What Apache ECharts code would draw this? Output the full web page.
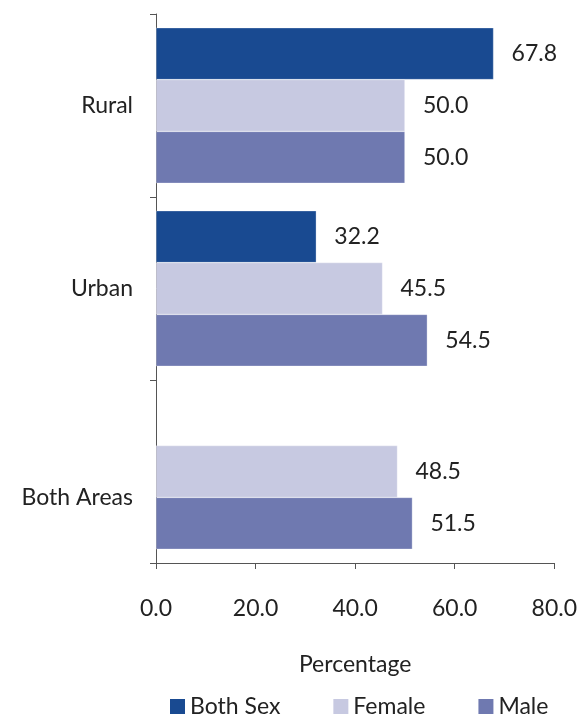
<!DOCTYPE html>
<html>
<head>
<meta charset="utf-8">
<script src="https://cdn.jsdelivr.net/npm/echarts@6/dist/echarts.min.js"></script>
<style>
html,body{margin:0;padding:0;background:#fff;}
#main{width:580px;height:718px;}
</style>
</head>
<body>
<div id="main"></div>
<script>
// categories from top to bottom
var areas = ['Rural', 'Urban', 'Both Areas'];
var bothSex = [67.8, 32.2, '-'];
var female = [50.0, 45.5, 48.5];
var male = [50.0, 54.5, 51.5];
var xTicks = [0, 20, 40, 60, 80];

var myChart = echarts.init(document.getElementById('main'));
var font = 'Lato, "Open Sans", sans-serif';

function barSeries(name, data, color) {
	return {
		name: name,
		type: 'bar',
		data: data,
		barGap: '0%',
		barCategoryGap: '15%',
		itemStyle: {color: color, borderColor: 'rgba(255,255,255,0.6)', borderWidth: 0.5},
		label: {
			show: true,
			position: 'right',
			distance: 18,
			color: '#222',
			fontFamily: font,
			fontSize: 23,
			formatter: function(p) { return p.value.toFixed(1); }
		}
	};
}

var option = {
	backgroundColor: '#fff',
	animation: false,
	grid: {left: 156, right: 25, top: 14, bottom: 155},
	legend: {
		top: 695,
		left: 170,
		padding: 0,
		icon: 'rect',
		itemWidth: 15,
		itemHeight: 15,
		itemGap: 53,
		itemStyle: {borderWidth: 0},
		textStyle: {fontFamily: font, fontSize: 23, color: '#222'},
		data: ['Both Sex', 'Female', 'Male']
	},
	xAxis: {
		type: 'value',
		min: xTicks[0],
		max: xTicks[xTicks.length - 1],
		interval: 20,
		name: 'Percentage',
		nameLocation: 'middle',
		nameGap: 90,
		nameTextStyle: {fontFamily: font, fontSize: 23, color: '#222'},
		splitLine: {show: false},
		axisLine: {show: true, lineStyle: {color: '#555'}},
		axisTick: {show: true, length: 6, lineStyle: {color: '#555'}},
		axisLabel: {
			margin: 34,
			fontFamily: font,
			fontSize: 23,
			color: '#222',
			formatter: function(v) { return v.toFixed(1); }
		}
	},
	yAxis: {
		type: 'category',
		inverse: true,
		data: areas,
		axisLine: {show: true, lineStyle: {color: '#555'}},
		axisTick: {show: true, length: 6, lineStyle: {color: '#555'}},
		axisLabel: {
			margin: 23,
			fontFamily: font,
			fontSize: 23,
			color: '#222',
			formatter: function(v) { return v === 'Both Areas' ? '{low|' + v + '}' : v; },
			rich: {low: {fontFamily: font, fontSize: 23, color: '#222', padding: [52, 0, 0, 0]}}
		}
	},
	series: [
		barSeries('Both Sex', bothSex, '#194a91'),
		barSeries('Female', female, '#c7c9e1'),
		barSeries('Male', male, '#6f79b0')
	]
};
myChart.setOption(option);
</script>
</body>
</html>
